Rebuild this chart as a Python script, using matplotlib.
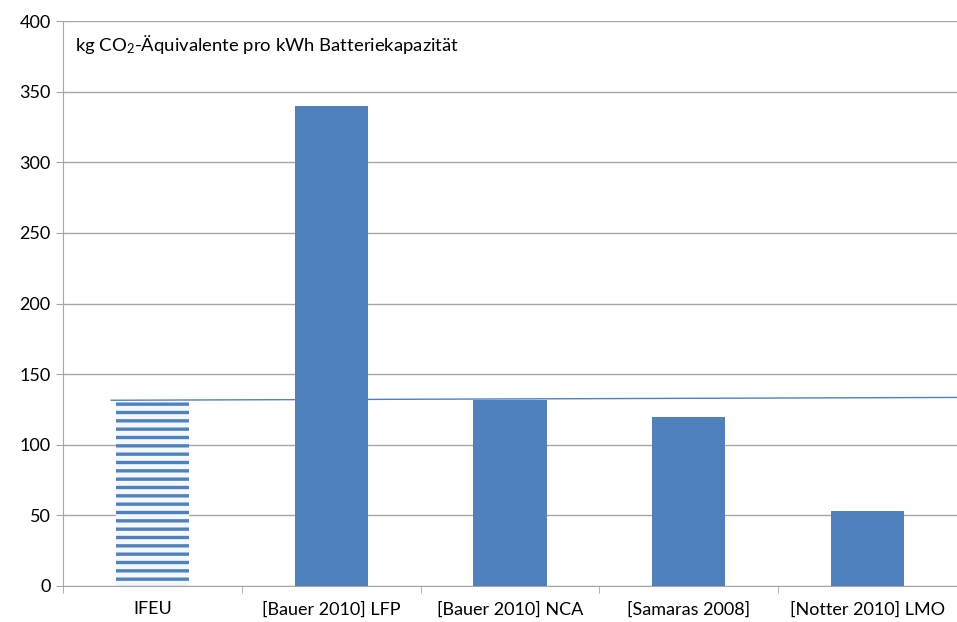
import matplotlib
matplotlib.use('Agg')
import matplotlib.pyplot as plt

# Values
categories = ['IFEU', '[Bauer 2010] LFP', '[Bauer 2010] NCA', '[Samaras 2008]', '[Notter 2010] LMO']
values = [131, 340, 132, 120, 53]
ref_line = [131.5, 133.5]  # thin reference line from IFEU level to right edge
y_ticks = [0, 50, 100, 150, 200, 250, 300, 350, 400]

plt.rcParams['font.family'] = ['Lato', 'DejaVu Sans']
plt.rcParams['mathtext.fontset'] = 'custom'
plt.rcParams['mathtext.rm'] = 'Lato'
plt.rcParams['mathtext.it'] = 'Lato'
plt.rcParams['hatch.linewidth'] = 2.4

blue = '#4F81BD'
grid_c = '#A6A6A6'

fig = plt.figure(figsize=(9.57, 6.22), dpi=100)
ax = fig.add_axes([63 / 957, 36 / 622, 894 / 957, 565 / 622])

x = list(range(len(categories)))
bars = ax.bar(x, values, width=0.41, color=blue, zorder=3, linewidth=0)
# IFEU bar is striped
bars[0].set_facecolor('#F4F7FB')
bars[0].set_edgecolor(blue)
bars[0].set_hatch('--')

ax.plot([-0.23, 4.5], ref_line, color=blue, linewidth=1, zorder=4)

ax.set_xlim(-0.5, 4.5)
ax.set_ylim(0, 400)
ax.set_yticks(y_ticks)
ax.yaxis.grid(True, color=grid_c, linewidth=1)
ax.set_axisbelow(True)

ax.set_xticks(x)
ax.set_xticklabels(categories)
ax.set_xticks([i - 0.5 for i in range(len(categories) + 1)], minor=True)
ax.tick_params(axis='x', which='major', length=0, pad=11, labelsize=13, colors='black')
ax.tick_params(axis='x', which='minor', length=5, color=grid_c)
ax.tick_params(axis='y', length=5, color=grid_c, labelsize=13, pad=4)

for side in ['top', 'right']:
    ax.spines[side].set_visible(False)
for side in ['left', 'bottom']:
    ax.spines[side].set_color(grid_c)

ax.text(12 / 894, 0.958, 'kg CO$_2$-Äquivalente pro kWh Batteriekapazität',
        transform=ax.transAxes, fontsize=13.3, va='center', ha='left')

fig.savefig('out.png', dpi=100)
